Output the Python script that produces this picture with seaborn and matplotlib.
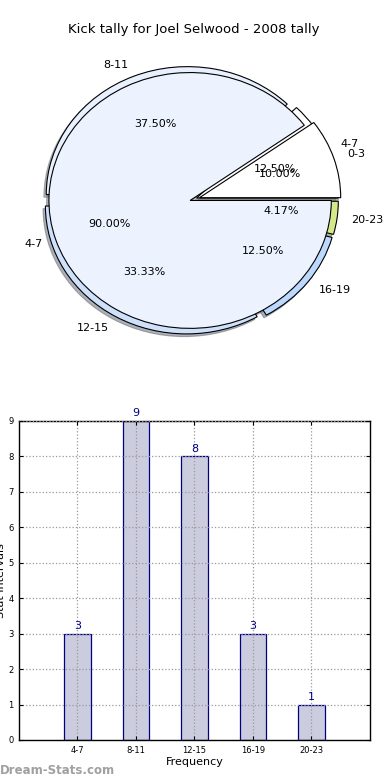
import matplotlib
matplotlib.use("Agg")
import matplotlib.pyplot as plt
import seaborn as sns
import pandas as pd

title = "Kick tally for Joel Selwood - 2008 tally"

# Pie 1 (overlaid)
pie1_labels = ["0-3", "4-7"]
pie1_values = [10.0, 90.0]
pie1_colors = ["#ffffff", "#ecf2fe"]

# Pie 2 (tally)
pie2_labels = ["4-7", "8-11", "12-15", "16-19", "20-23"]
pie2_values = [3, 9, 8, 3, 1]
pie2_colors = ["#ffffff", "#eaf1fe", "#cfe0fb", "#bcd8fd", "#d4ea8a"]

# Bar chart
bar_categories = ["4-7", "8-11", "12-15", "16-19", "20-23"]
bar_values = [3, 9, 8, 3, 1]

fig = plt.figure(figsize=(3.9, 7.8), dpi=100)

# ---- Pie axes ----
axp = fig.add_axes([0.035, 0.538, 0.905, 0.410])
wp = dict(edgecolor="black", linewidth=0.8)
tp = dict(fontsize=8)
sh = {"ox": -0.012, "oy": -0.015, "shade": 0.55}
axp.pie(pie2_values, labels=pie2_labels, colors=pie2_colors,
        explode=[0.05] * len(pie2_values), autopct="%1.2f%%",
        shadow=sh, wedgeprops=wp, textprops=tp)
axp.pie(pie1_values, labels=pie1_labels, colors=pie1_colors,
        explode=[0.07, 0.0], autopct="%1.2f%%",
        shadow=sh, wedgeprops=wp, textprops=tp)
axp.set_aspect("auto")
axp.set_xlim(-1.25, 1.25)
axp.set_ylim(-1.25, 1.25)
axp.axis("off")

fig.text(0.497, 1 - 30 / 780, title, ha="center", va="center", fontsize=9.5)

# ---- Bar axes ----
axb = fig.add_axes([0.0487, 0.0513, 0.9, 0.409])
df = pd.DataFrame({"cat": bar_categories, "val": bar_values})
sns.barplot(data=df, x="cat", y="val", ax=axb, width=0.45, color="#ccccdf",
            edgecolor="navy", linewidth=0.9, saturation=1, errorbar=None)
for c in axb.containers:
    axb.bar_label(c, color="navy", fontsize=8, padding=2)
axb.set_xlim(-1, 5)
axb.set_ylim(0, 9)
axb.set_yticks(range(0, 10))
axb.grid(True, linestyle=":", color="#999999", linewidth=0.9)
axb.set_axisbelow(False)
for coll in axb.patches:
    coll.set_zorder(1)
axb.tick_params(axis="both", labelsize=6, direction="in", length=3,
                top=True, right=True, pad=4)
for s in axb.spines.values():
    s.set_linewidth(1.0)
axb.set_xlabel("Frequency", fontsize=8, labelpad=2)
axb.set_ylabel("Stat Intervals", fontsize=8)
axb.yaxis.set_label_coords(-0.038, 0.5)

fig.text(0.0, 10 / 780, "Dream-Stats.com", ha="left", va="center",
         fontsize=8.5, fontweight="bold", color="#a0a0a0")

fig.savefig("out.png", dpi=100)
